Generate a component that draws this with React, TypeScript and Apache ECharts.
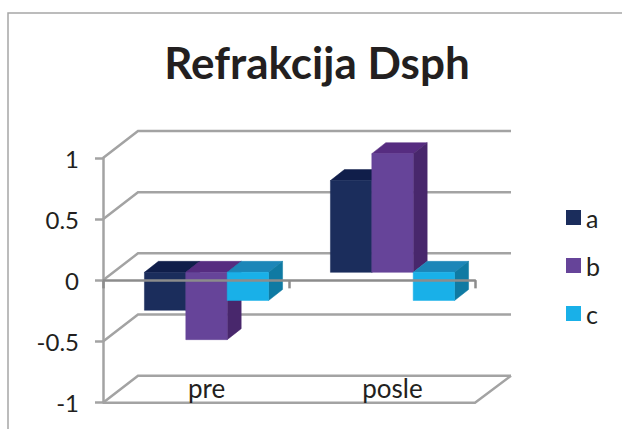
import React, { useEffect, useRef } from "react";
import * as echarts from "echarts";

const title = "Refrakcija Dsph";
const categories = ["pre", "posle"];
const yTicks = [-1, -0.5, 0, 0.5, 1];
const seriesA = [-0.31, 0.75];
const seriesB = [-0.55, 0.97];
const seriesC = [-0.23, -0.23];
const names = ["a", "b", "c"];
const faceColors = ["#1b2d5c", "#664499", "#19b0e8"];
const topColors = ["#101e4a", "#562c80", "#1c86b8"];
const sideColors = ["#14234c", "#48276c", "#0f7aa3"];

const FONT = "Lato, 'Open Sans', sans-serif";
const TEXT = "#231f20";
const GRID = "#a3a3a3";

// Projection of the 3D look, in pixels
const WALL_DX = 35;
const WALL_DY = -27;
const BAR_DX = 10.5;
const BAR_DY = -8;
const DEPTH_DX = 14;
const DEPTH_DY = -11;
const BAR_FRACTION = 0.2225;

function barSeries(index: number, values: number[]) {
  return {
    type: "custom",
    name: names[index],
    coordinateSystem: "cartesian2d",
    z: 3 + index,
    silent: true,
    itemStyle: { color: faceColors[index] },
    encode: { x: 0, y: 1 },
    clip: false,
    data: values.map((v, i) => [categories[i], v]),
    renderItem: (_p: any, api: any) => {
      const cat = api.value(0);
      const val = api.value(1);
      const centre = api.coord([cat, 0]);
      const end = api.coord([cat, val]);
      const w = api.size([1, 0])[0] * BAR_FRACTION;
      const x0 = centre[0] + BAR_DX + (index - 1.5) * w;
      const x1 = x0 + w;
      const yBase = centre[1] + BAR_DY;
      const yEnd = end[1] + BAR_DY;
      const yTop = Math.min(yBase, yEnd);
      const yBot = Math.max(yBase, yEnd);
      const poly = (points: number[][], fill: string) => ({
        type: "polygon",
        shape: { points },
        style: { fill, stroke: fill, lineWidth: 0.5 },
      });
      return {
        type: "group",
        children: [
          poly(
            [
              [x0, yTop],
              [x1, yTop],
              [x1 + DEPTH_DX, yTop + DEPTH_DY],
              [x0 + DEPTH_DX, yTop + DEPTH_DY],
            ],
            topColors[index],
          ),
          poly(
            [
              [x1, yTop],
              [x1 + DEPTH_DX, yTop + DEPTH_DY],
              [x1 + DEPTH_DX, yBot + DEPTH_DY],
              [x1, yBot],
            ],
            sideColors[index],
          ),
          poly(
            [
              [x0, yTop],
              [x1, yTop],
              [x1, yBot],
              [x0, yBot],
            ],
            faceColors[index],
          ),
        ],
      };
    },
  };
}

const wallSeries = {
  type: "custom",
  coordinateSystem: "cartesian2d",
  z: 1,
  silent: true,
  clip: false,
  encode: { y: 0 },
  data: yTicks.map((t) => [t]),
  renderItem: (params: any, api: any) => {
    const t = api.value(0);
    const r = params.coordSys;
    const y = api.coord([categories[0], t])[1];
    const lineStyle = { stroke: GRID, lineWidth: 2.5, fill: "none" };
    const children: any[] = [
      {
        type: "polyline",
        shape: {
          points: [
            [r.x, y],
            [r.x + WALL_DX, y + WALL_DY],
            [r.x + r.width + WALL_DX + 1, y + WALL_DY],
          ],
        },
        style: lineStyle,
      },
    ];
    if (t === yTicks[0]) {
      children.push({
        type: "polyline",
        shape: {
          points: [
            [r.x, y],
            [r.x + r.width, y],
            [r.x + r.width + WALL_DX + 1, y + WALL_DY],
          ],
        },
        style: lineStyle,
      });
    }
    return { type: "group", children };
  },
};

export default function App() {
  const ref = useRef<HTMLDivElement>(null);
  useEffect(() => {
    const chart = echarts.init(ref.current!, undefined, { renderer: "svg" });
    chart.setOption({
      animation: false,
      backgroundColor: "#ffffff",
      textStyle: { fontFamily: FONT },
      title: {
        text: title,
        left: 312,
        top: 35,
        textAlign: "center",
        textStyle: { fontFamily: FONT, fontSize: 44, fontWeight: "bold", color: TEXT },
      },
      grid: { left: 103, top: 158, width: 372, height: 244.7, outerBoundsMode: "none" },
      legend: {
        orient: "vertical",
        left: 561,
        top: 200,
        data: names,
        icon: "rect",
        itemWidth: 15,
        itemHeight: 15,
        itemGap: 23,
        selectedMode: false,
        textStyle: { fontFamily: FONT, fontSize: 25, color: TEXT, padding: [0, 0, 6, 0] },
      },
      xAxis: {
        type: "category",
        data: categories,
        z: 10,
        axisLine: { onZero: true, lineStyle: { color: "#8c8c8c", width: 2.5 } },
        axisTick: { show: true, length: 8, lineStyle: { color: "#8c8c8c", width: 2.5 } },
        axisLabel: {
          margin: -28,
          fontFamily: FONT,
          fontSize: 26,
          color: TEXT,
          padding: [0, 0, 0, 21],
        },
      },
      yAxis: {
        type: "value",
        min: -1,
        max: 1,
        interval: 0.5,
        z: 10,
        splitLine: { show: false },
        axisLine: { show: true, lineStyle: { color: GRID, width: 2.5 } },
        axisTick: { show: true, length: 8, lineStyle: { color: GRID, width: 2.5 } },
        axisLabel: { margin: 24, fontFamily: FONT, fontSize: 24, color: TEXT },
      },
      graphic: [
        {
          type: "polyline",
          silent: true,
          shape: {
            points: [
              [8, 429],
              [8, 13],
              [622, 13],
            ],
          },
          style: { stroke: "#a6a6a6", lineWidth: 1.5, fill: "none" },
        },
      ],
      series: [wallSeries, barSeries(0, seriesA), barSeries(1, seriesB), barSeries(2, seriesC)],
    });
    return () => chart.dispose();
  }, []);
  return <div ref={ref} style={{ position: "fixed", left: 0, top: 0, width: 622, height: 429 }} />;
}
